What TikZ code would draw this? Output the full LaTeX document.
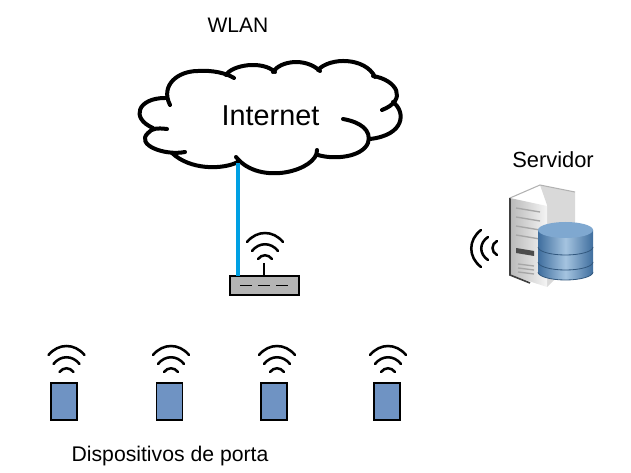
\documentclass[tikz,border=0pt]{standalone}
\usepackage{fontspec}
\setmainfont{Liberation Sans}
\definecolor{linkblue}{HTML}{00A0E3}
\definecolor{devblue}{HTML}{6F93C3}
\definecolor{routergray}{HTML}{B4B4B4}
\definecolor{dbdark}{HTML}{3F6E9E}
\definecolor{dbmid}{HTML}{7FA8D0}
\definecolor{dblight}{HTML}{A5C4E0}
\tikzset{
  x=0.75pt,y=-0.75pt,
  cloudline/.style={line width=3pt,line cap=round,line join=round},
  wave/.style={line width=1.9pt,line cap=round},
  label/.style={font=\fontsize{15.75pt}{18pt}\selectfont,inner sep=0pt},
  device/.style={draw=black,line width=1pt,fill=devblue,minimum width=19.5pt,minimum height=27.75pt,inner sep=0pt},
  routerbox/.style={draw=black,line width=1pt,fill=routergray,minimum width=51.75pt,minimum height=14.25pt,inner sep=0pt},
  link/.style={draw=linkblue,line width=3pt},
  wifi/.pic={
    \draw[wave] (-18,9) .. controls (-8,-3) and (8,-3) .. (18,9);
    \draw[wave] (-13,18) .. controls (-6,9) and (6,9) .. (13,18);
    \draw[wave] (-7,26) .. controls (-3,21) and (3,21) .. (7,26);
  }
}
\begin{document}
\begin{tikzpicture}
\useasboundingbox (0,0) rectangle (631,473);
% labels
\node[label] (wlan) at (238,25) {WLAN};
\node[label,font=\fontsize{16.4pt}{18pt}\selectfont] (srv) at (553,160) {Servidor};
\node[label,font=\fontsize{15.9pt}{18pt}\selectfont] (dev) at (170,456) {Dispositivos de porta};
% cloud
\draw[cloudline]
  (170,105) .. controls (160,85) and (178,71) .. (198,71) .. controls (212,70) and (226,73) .. (234,78)
  (226,75) .. controls (232,65) and (262,60) .. (275,72)
  (273,72) .. controls (280,61) and (305,57) .. (320,71)
  (318,70) .. controls (330,57) and (365,57) .. (375,77)
  (373,76) .. controls (397,80) and (408,100) .. (382,110)
  (393,102) .. controls (406,112) and (405,135) .. (370,139)
  (343,119) .. controls (360,122) and (372,130) .. (368,143) .. controls (362,157) and (335,160) .. (318,155)
  (317,150) .. controls (318,170) and (260,187) .. (236,157)
  (238,162) .. controls (222,170) and (190,170) .. (172,153)
  (185,152) .. controls (165,156) and (135,145) .. (148,133) .. controls (152,128) and (158,128) .. (167,129)
  (153,128) .. controls (130,118) and (138,98) .. (165,98);
\node[font=\fontsize{21.6pt}{24pt}\selectfont,inner sep=0pt] (inet) at (270.5,116) {Internet};
% router
\node[routerbox] (router) at (264.5,285.5) {};
\coordinate (linktop) at (238,163);
\coordinate (linkbot) at (238,276);
\path[link] (linktop) -- (linkbot);
\coordinate (stemtop) at (264,263);
\coordinate (stembot) at (264,276);
\draw[line width=1.6pt] (stemtop) -- (stembot);
\foreach \a in {246,264,282}
  \draw[line width=1.2pt] (\a-6,285.5) -- (\a+6,285.5);
\pic at (265,233) {wifi};
% devices
\foreach \n/\cx/\bx in {a/66.5/64,b/171/169.5,c/277/274,d/388/387}{
  \pic at (\cx,346) {wifi};
  \node[device] (dev\n) at (\bx,401.5) {};
}
% server tower
\fill[gray!30] (540,185) -- (575,192) -- (575,260) -- (547,287) -- (547,205) -- cycle;
\shade[left color=gray!55,right color=gray!8] (510,198) -- (547,206) -- (547,287) -- (510,275) -- cycle;
\draw[black!75,line width=1.2pt] (510,198) -- (510,275) -- (530,283);
\draw[gray!60,line width=.8pt] (510,198) -- (540,185) -- (575,192);
\fill[black!70] (516,248) -- (534,251) -- (534,256) -- (516,253) -- cycle;
\foreach \y in {208,217,226,235}
  \draw[gray!70,line width=1pt] (516,\y) -- (540,\y+4);
\foreach \y in {264,268,272}
  \draw[gray!70,line width=1pt] (518,\y) -- (534,\y+2);
% database
\foreach \top/\h in {262/10,247/15,230/17}{
  \shade[left color=dbdark,right color=dbdark,middle color=dblight]
    (538,\top) -- (538,\top+\h) arc[start angle=180,end angle=0,x radius=27.5,y radius=8] -- (593,\top) -- cycle;
  \draw[dbdark!80!black,line width=.6pt] (538,\top+\h) arc[start angle=180,end angle=0,x radius=27.5,y radius=8];
}
\fill[dbmid] (565.5,230) ellipse[x radius=27.5,y radius=8];
% server wifi
\draw[wave] (481,230) .. controls (468,240) and (468,257) .. (481,267);
\draw[wave] (488,237) .. controls (479,243) and (479,254) .. (488,260);
\draw[wave] (497,241) .. controls (491,244) and (491,252) .. (497,255);
\end{tikzpicture}
\end{document}
